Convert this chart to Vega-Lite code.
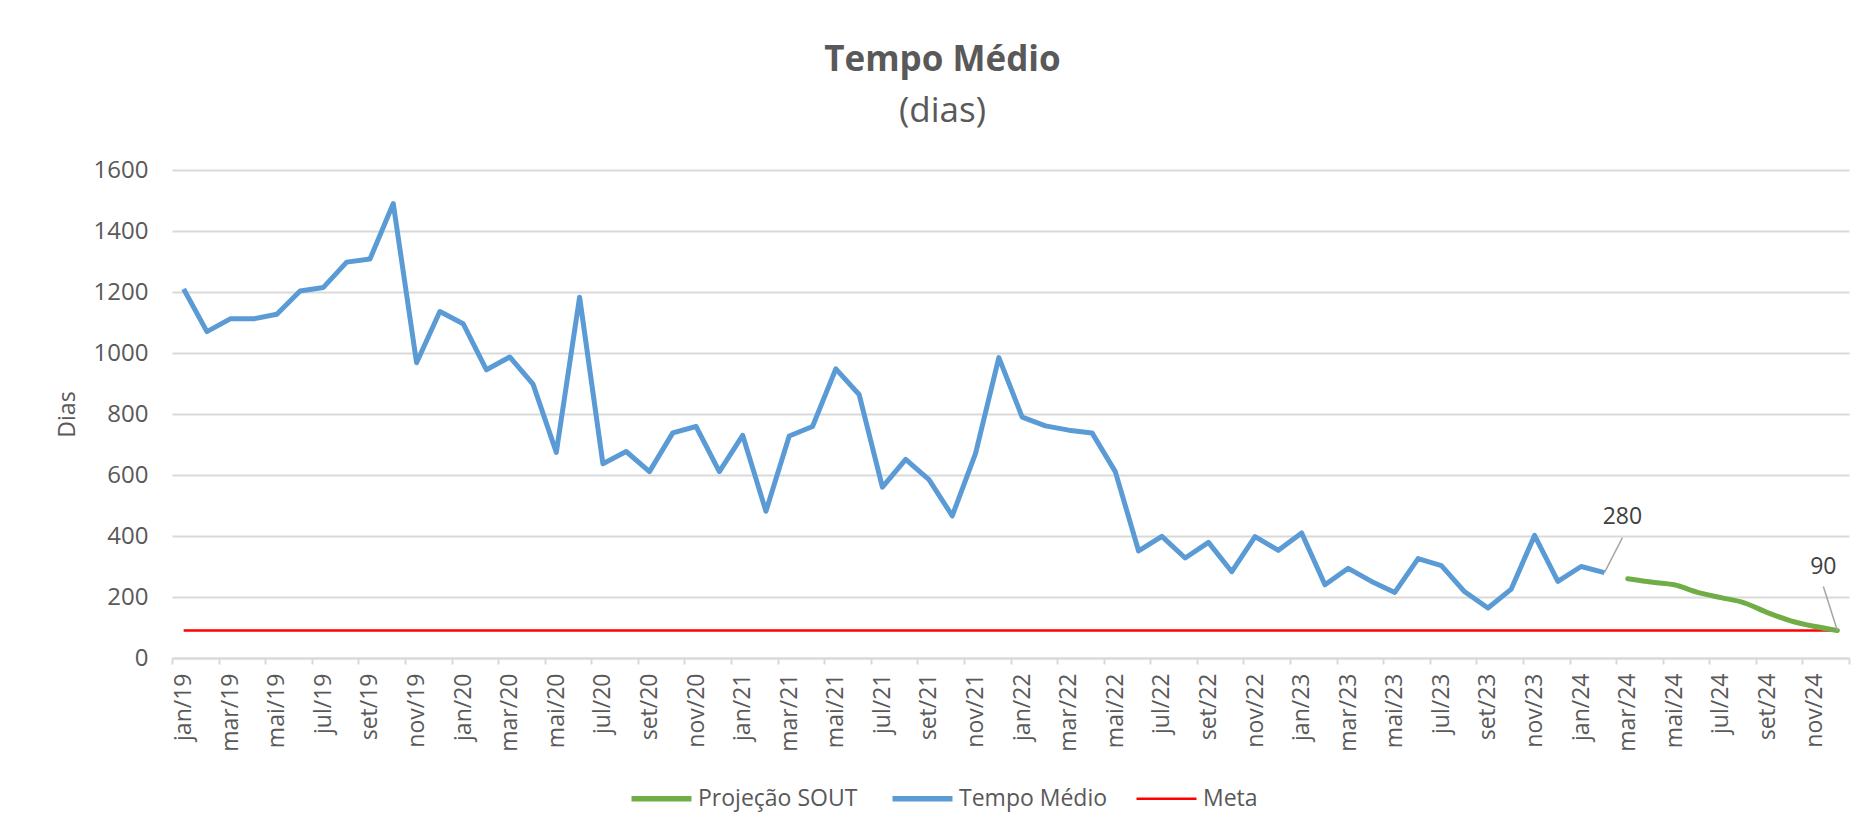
{
  "$schema": "https://vega.github.io/schema/vega-lite/v6.json",
  "autosize": {"type": "none"},
  "width": 1677,
  "height": 488,
  "padding": {"left": 172, "top": 170, "right": 23, "bottom": 179},
  "background": "white",
  "config": {
    "view": {"stroke": null},
    "font": "Open Sans"
  },
  "title": {
    "text": "Tempo Médio",
    "subtitle": "(dias)",
    "font": "Open Sans",
    "subtitleFont": "Open Sans",
    "fontSize": 35,
    "subtitleFontSize": 35,
    "fontWeight": "bold",
    "subtitleFontWeight": "normal",
    "color": "#595959",
    "subtitleColor": "#595959",
    "anchor": "middle",
    "dx": -68,
    "offset": 29,
    "subtitlePadding": 16
  },
  "data": {
    "values": [
      {"i": 0, "mes": "jan/19", "tempo": 1210, "proj": null, "meta": 90},
      {"i": 1, "mes": "fev/19", "tempo": 1070, "proj": null, "meta": 90},
      {"i": 2, "mes": "mar/19", "tempo": 1112, "proj": null, "meta": 90},
      {"i": 3, "mes": "abr/19", "tempo": 1112, "proj": null, "meta": 90},
      {"i": 4, "mes": "mai/19", "tempo": 1127, "proj": null, "meta": 90},
      {"i": 5, "mes": "jun/19", "tempo": 1203, "proj": null, "meta": 90},
      {"i": 6, "mes": "jul/19", "tempo": 1215, "proj": null, "meta": 90},
      {"i": 7, "mes": "ago/19", "tempo": 1298, "proj": null, "meta": 90},
      {"i": 8, "mes": "set/19", "tempo": 1308, "proj": null, "meta": 90},
      {"i": 9, "mes": "out/19", "tempo": 1490, "proj": null, "meta": 90},
      {"i": 10, "mes": "nov/19", "tempo": 968, "proj": null, "meta": 90},
      {"i": 11, "mes": "dez/19", "tempo": 1136, "proj": null, "meta": 90},
      {"i": 12, "mes": "jan/20", "tempo": 1096, "proj": null, "meta": 90},
      {"i": 13, "mes": "fev/20", "tempo": 945, "proj": null, "meta": 90},
      {"i": 14, "mes": "mar/20", "tempo": 987, "proj": null, "meta": 90},
      {"i": 15, "mes": "abr/20", "tempo": 898, "proj": null, "meta": 90},
      {"i": 16, "mes": "mai/20", "tempo": 674, "proj": null, "meta": 90},
      {"i": 17, "mes": "jun/20", "tempo": 1183, "proj": null, "meta": 90},
      {"i": 18, "mes": "jul/20", "tempo": 637, "proj": null, "meta": 90},
      {"i": 19, "mes": "ago/20", "tempo": 677, "proj": null, "meta": 90},
      {"i": 20, "mes": "set/20", "tempo": 611, "proj": null, "meta": 90},
      {"i": 21, "mes": "out/20", "tempo": 738, "proj": null, "meta": 90},
      {"i": 22, "mes": "nov/20", "tempo": 759, "proj": null, "meta": 90},
      {"i": 23, "mes": "dez/20", "tempo": 611, "proj": null, "meta": 90},
      {"i": 24, "mes": "jan/21", "tempo": 730, "proj": null, "meta": 90},
      {"i": 25, "mes": "fev/21", "tempo": 481, "proj": null, "meta": 90},
      {"i": 26, "mes": "mar/21", "tempo": 728, "proj": null, "meta": 90},
      {"i": 27, "mes": "abr/21", "tempo": 759, "proj": null, "meta": 90},
      {"i": 28, "mes": "mai/21", "tempo": 948, "proj": null, "meta": 90},
      {"i": 29, "mes": "jun/21", "tempo": 864, "proj": null, "meta": 90},
      {"i": 30, "mes": "jul/21", "tempo": 560, "proj": null, "meta": 90},
      {"i": 31, "mes": "ago/21", "tempo": 651, "proj": null, "meta": 90},
      {"i": 32, "mes": "set/21", "tempo": 585, "proj": null, "meta": 90},
      {"i": 33, "mes": "out/21", "tempo": 466, "proj": null, "meta": 90},
      {"i": 34, "mes": "nov/21", "tempo": 671, "proj": null, "meta": 90},
      {"i": 35, "mes": "dez/21", "tempo": 985, "proj": null, "meta": 90},
      {"i": 36, "mes": "jan/22", "tempo": 790, "proj": null, "meta": 90},
      {"i": 37, "mes": "fev/22", "tempo": 761, "proj": null, "meta": 90},
      {"i": 38, "mes": "mar/22", "tempo": 747, "proj": null, "meta": 90},
      {"i": 39, "mes": "abr/22", "tempo": 738, "proj": null, "meta": 90},
      {"i": 40, "mes": "mai/22", "tempo": 611, "proj": null, "meta": 90},
      {"i": 41, "mes": "jun/22", "tempo": 351, "proj": null, "meta": 90},
      {"i": 42, "mes": "jul/22", "tempo": 399, "proj": null, "meta": 90},
      {"i": 43, "mes": "ago/22", "tempo": 328, "proj": null, "meta": 90},
      {"i": 44, "mes": "set/22", "tempo": 379, "proj": null, "meta": 90},
      {"i": 45, "mes": "out/22", "tempo": 283, "proj": null, "meta": 90},
      {"i": 46, "mes": "nov/22", "tempo": 398, "proj": null, "meta": 90},
      {"i": 47, "mes": "dez/22", "tempo": 353, "proj": null, "meta": 90},
      {"i": 48, "mes": "jan/23", "tempo": 410, "proj": null, "meta": 90},
      {"i": 49, "mes": "fev/23", "tempo": 240, "proj": null, "meta": 90},
      {"i": 50, "mes": "mar/23", "tempo": 294, "proj": null, "meta": 90},
      {"i": 51, "mes": "abr/23", "tempo": 251, "proj": null, "meta": 90},
      {"i": 52, "mes": "mai/23", "tempo": 215, "proj": null, "meta": 90},
      {"i": 53, "mes": "jun/23", "tempo": 326, "proj": null, "meta": 90},
      {"i": 54, "mes": "jul/23", "tempo": 303, "proj": null, "meta": 90},
      {"i": 55, "mes": "ago/23", "tempo": 217, "proj": null, "meta": 90},
      {"i": 56, "mes": "set/23", "tempo": 164, "proj": null, "meta": 90},
      {"i": 57, "mes": "out/23", "tempo": 226, "proj": null, "meta": 90},
      {"i": 58, "mes": "nov/23", "tempo": 402, "proj": null, "meta": 90},
      {"i": 59, "mes": "dez/23", "tempo": 251, "proj": null, "meta": 90},
      {"i": 60, "mes": "jan/24", "tempo": 300, "proj": null, "meta": 90},
      {"i": 61, "mes": "fev/24", "tempo": 280, "proj": null, "meta": 90},
      {"i": 62, "mes": "mar/24", "tempo": null, "proj": 260, "meta": 90},
      {"i": 63, "mes": "abr/24", "tempo": null, "proj": 249, "meta": 90},
      {"i": 64, "mes": "mai/24", "tempo": null, "proj": 240, "meta": 90},
      {"i": 65, "mes": "jun/24", "tempo": null, "proj": 215, "meta": 90},
      {"i": 66, "mes": "jul/24", "tempo": null, "proj": 198, "meta": 90},
      {"i": 67, "mes": "ago/24", "tempo": null, "proj": 181, "meta": 90},
      {"i": 68, "mes": "set/24", "tempo": null, "proj": 149, "meta": 90},
      {"i": 69, "mes": "out/24", "tempo": null, "proj": 122, "meta": 90},
      {"i": 70, "mes": "nov/24", "tempo": null, "proj": 104, "meta": 90},
      {"i": 71, "mes": "dez/24", "tempo": null, "proj": 90, "meta": 90}
    ]
  },
  "transform": [
    {"fold": ["proj", "tempo", "meta"], "as": ["serie", "valor"]}
  ],
  "encoding": {
    "x": {
      "field": "i",
      "type": "quantitative",
      "scale": {"domain": [-0.5, 71.5], "nice": false, "zero": false},
      "axis": {
        "title": null,
        "values": [-0.5,0,1.5,2,3.5,4,5.5,6,7.5,8,9.5,10,11.5,12,13.5,14,15.5,16,17.5,18,19.5,20,21.5,22,23.5,24,25.5,26,27.5,28,29.5,30,31.5,32,33.5,34,35.5,36,37.5,38,39.5,40,41.5,42,43.5,44,45.5,46,47.5,48,49.5,50,51.5,52,53.5,54,55.5,56,57.5,58,59.5,60,61.5,62,63.5,64,65.5,66,67.5,68,69.5,70,71.5],
        "labelExpr": "datum.value % 1 != 0 ? '' : ['jan','fev','mar','abr','mai','jun','jul','ago','set','out','nov','dez'][datum.value % 12] + '/' + (19 + floor(datum.value / 12))",
        "labelAngle": 270,
        "labelAlign": "right",
        "labelBaseline": "middle",
        "labelOverlap": false,
        "labelFlush": false,
        "labelBound": false,
        "labelPadding": 9,
        "labelFont": "Open Sans",
        "labelFontSize": 23,
        "labelColor": "#595959",
        "grid": false,
        "domain": true,
        "domainColor": "#d9d9d9",
        "domainWidth": 2,
        "ticks": true,
        "tickSize": 6,
        "tickColor": "#d9d9d9",
        "tickWidth": 2,
        "tickOpacity": {"condition": {"test": "datum.value % 1 == 0", "value": 0}, "value": 1}
      }
    },
    "y": {
      "field": "valor",
      "type": "quantitative",
      "scale": {"domain": [0, 1600], "nice": false},
      "axis": {
        "title": "Dias",
        "titleFont": "Open Sans",
        "titleFontSize": 23,
        "titleFontWeight": "normal",
        "titleColor": "#595959",
        "titlePadding": 14,
        "values": [0, 200, 400, 600, 800, 1000, 1200, 1400, 1600],
        "format": "d",
        "labelFont": "Open Sans",
        "labelFontSize": 24,
        "labelColor": "#595959",
        "labelPadding": 24,
        "ticks": false,
        "tickSize": 0,
        "domain": false,
        "grid": true,
        "gridColor": "#d9d9d9",
        "gridWidth": 2
      }
    }
  },
  "layer": [
    {
      "transform": [{"filter": "datum.serie == 'meta'"}],
      "mark": {"type": "line", "interpolate": "linear", "strokeWidth": 2.5},
      "encoding": {
        "color": {"field": "serie", "type": "nominal",
          "scale": {"domain": ["proj", "tempo", "meta"], "range": ["#70ad47", "#5b9bd5", "#ff0000"]},
          "legend": {
            "title": null,
            "orient": "none",
            "direction": "horizontal",
            "legendX": 478,
            "legendY": 617,
            "padding": 0,
            "symbolType": "stroke",
            "symbolSize": 3600,
            "symbolStrokeWidth": 5,
            "labelOffset": 25,
            "columnPadding": 23,
            "labelFont": "Open Sans",
            "labelFontSize": 23,
            "labelColor": "#595959",
            "labelExpr": "datum.label == 'proj' ? 'Projeção SOUT' : datum.label == 'tempo' ? 'Tempo Médio' : 'Meta'",
            "encode": {"symbols": {"update": {"strokeWidth": {"signal": "datum.value == 'meta' ? 2.5 : 5.5"}}}}
          }}
      }
    },
    {
      "transform": [{"filter": "datum.serie == 'tempo'"}],
      "mark": {"type": "line", "interpolate": "linear", "strokeWidth": 5, "strokeJoin": "round"},
      "encoding": {
        "color": {"field": "serie", "type": "nominal"}
      }
    },
    {
      "transform": [{"filter": "datum.serie == 'proj'"}],
      "mark": {"type": "line", "interpolate": "monotone", "strokeWidth": 5, "strokeCap": "round"},
      "encoding": {
        "color": {"field": "serie", "type": "nominal"}
      }
    },
    {
      "transform": [{"filter": "datum.serie == 'tempo' && datum.i == 61"}],
      "mark": {"type": "rule", "color": "#a6a6a6", "strokeWidth": 1.5, "x2Offset": 18, "y2Offset": -35},
      "encoding": {
        "x2": {"field": "i"},
        "y2": {"field": "valor"}
      }
    },
    {
      "transform": [{"filter": "datum.serie == 'proj' && datum.i == 71"}],
      "mark": {"type": "rule", "color": "#a6a6a6", "strokeWidth": 1.5, "x2Offset": -14, "y2Offset": -44},
      "encoding": {
        "x2": {"field": "i"},
        "y2": {"field": "valor"}
      }
    },
    {
      "transform": [{"filter": "datum.serie == 'tempo' && datum.i == 61"}],
      "mark": {"type": "text", "font": "Open Sans", "fontSize": 23, "color": "#404040", "dx": 18, "dy": -56, "align": "center", "baseline": "middle"},
      "encoding": {"text": {"field": "valor", "type": "quantitative", "format": "d"}}
    },
    {
      "transform": [{"filter": "datum.serie == 'proj' && datum.i == 71"}],
      "mark": {"type": "text", "font": "Open Sans", "fontSize": 23, "color": "#404040", "dx": -14, "dy": -64, "align": "center", "baseline": "middle"},
      "encoding": {"text": {"field": "valor", "type": "quantitative", "format": "d"}}
    }
  ]
}
